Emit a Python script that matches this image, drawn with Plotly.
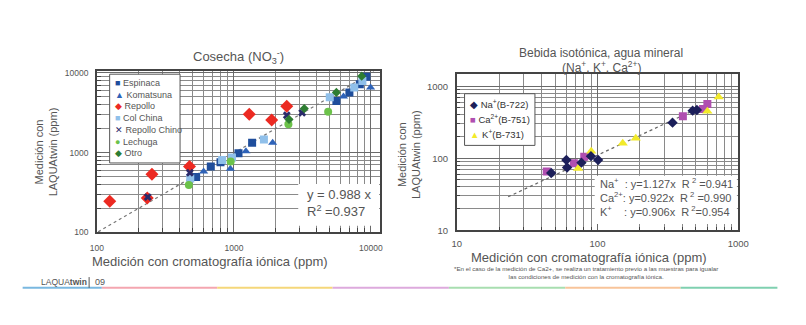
import plotly.graph_objects as go

W, H = 806, 325
FONT = "Liberation Sans"
GRAY = "#555555"

# ---------------- Left chart data (Cosecha NO3-) ----------------
esp_x = [530, 678, 798, 1080, 1358, 5600, 6970, 8300, 9270]
esp_y = [494, 667, 755, 982, 1325, 4420, 5690, 7200, 8940]
kom_x = [601, 942, 1224, 1918, 6310, 9950]
kom_y = [580, 625, 1038, 1325, 5040, 6550]
rep_x = [124, 233, 252, 474, 1294, 1888, 2432]
rep_y = [244, 268, 533, 667, 3035, 2560, 3800]
col_x = [480, 820, 968, 1656, 5010, 7560, 8670]
col_y = [471, 805, 869, 1455, 4940, 6550, 7910]
rch_x = [235, 477, 2432, 3150]
rch_y = [276, 559, 2945, 3150]
lec_x = [469, 947, 2500, 4875]
lec_y = [391, 770, 2265, 3240]
otr_x = [2525, 3265, 5600, 8570]
otr_y = [2605, 3560, 5690, 9100]
fit1_x = [102, 10500]
fit1_y = [101, 10370]

# ---------------- Right chart data (Na+, K+, Ca2+) ----------------
na_x = [46.9, 60.1, 60.8, 76.9, 89.8, 101, 341, 474, 508]
na_y = [62.4, 94.4, 74.3, 86.9, 107, 94.4, 312, 458, 468]
ca_x = [43.6, 67.9, 80.5, 404, 562, 603]
ca_y = [65.6, 85.1, 105, 384, 483, 565]
k_x = [72.8, 90.2, 151, 187, 603, 726]
k_y = [72.1, 125, 162, 190, 449, 709]
fit2_x = [23.2, 635]
fit2_y = [29.2, 595]

fig = go.Figure()

def add(x, y, color, symbol, size, name, xa="x", ya="y"):
    fig.add_trace(go.Scatter(
        x=x, y=y, mode="markers", name=name, xaxis=xa, yaxis=ya,
        marker=dict(color=color, symbol=symbol, size=size, line=dict(width=0)),
        showlegend=False))

# dashed fit lines
fig.add_trace(go.Scatter(x=fit1_x, y=fit1_y, mode="lines", xaxis="x", yaxis="y",
                         line=dict(color="#777777", width=1.2, dash="3px,3px"),
                         showlegend=False))
fig.add_trace(go.Scatter(x=fit2_x, y=fit2_y, mode="lines", xaxis="x2", yaxis="y2",
                         line=dict(color="#666666", width=1.2, dash="3px,3px"),
                         showlegend=False))

C_ESP, C_KOM, C_REP, C_COL = "#1f4e9c", "#2f63b8", "#ec2a22", "#90c0ea"
C_RCH, C_LEC, C_OTR = "#2a2a6a", "#6cc24a", "#2e7d32"
C_NA, C_CA, C_K = "#1c1f5a", "#b04fb0", "#f2ea2a"

add(rep_x, rep_y, C_REP, "diamond", 10, "Repollo")
add(esp_x, esp_y, C_ESP, "square", 8, "Espinaca")
add(kom_x, kom_y, C_KOM, "triangle-up", 8, "Komatsuna")
add(col_x, col_y, C_COL, "square", 8, "Col China")
add(lec_x, lec_y, C_LEC, "circle", 8, "Lechuga")
add(rch_x, rch_y, C_RCH, "x", 7, "Repollo Chino")
add(otr_x, otr_y, C_OTR, "diamond", 7, "Otro")

add(ca_x, ca_y, C_CA, "square", 8, "Ca2+", "x2", "y2")
add(k_x, k_y, C_K, "triangle-up", 9, "K+", "x2", "y2")
add(na_x, na_y, C_NA, "diamond", 8, "Na+", "x2", "y2")

def px(x):
    return x / W

def py(y):
    return 1 - y / H

axis_common = dict(
    type="log", showgrid=True, gridcolor="#6a6a6a", gridwidth=1,
    dtick=1, tickformat="d", ticks="", zeroline=False,
    showline=True, mirror=True, linecolor="#444444", linewidth=1.5,
    minor=dict(showgrid=True, gridcolor="#8a8a8a", gridwidth=0.8,
               ticks="inside", ticklen=4, tickcolor="#444444"),
)

fig.update_layout(
    width=W, height=H, margin=dict(l=0, r=0, t=0, b=0),
    paper_bgcolor="white", plot_bgcolor="white",
    font=dict(family=FONT, color=GRAY),
    xaxis=dict(axis_common, domain=[px(92), px(382)], range=[2, 4.07],
               anchor="y", tickfont=dict(size=8.5, color=GRAY), ticklabelstandoff=7),
    yaxis=dict(axis_common, domain=[py(235), py(70)], range=[2, 4.02],
               anchor="x", tickfont=dict(size=8.5, color=GRAY), ticklabelstandoff=5),
    xaxis2=dict(axis_common, domain=[px(460), px(748)], range=[1, 3],
                anchor="y2", tickfont=dict(size=9.5, color=GRAY), ticklabelstandoff=4),
    yaxis2=dict(axis_common, domain=[py(233), py(73)], range=[1, 3.167],
                anchor="x2", tickfont=dict(size=9.5, color=GRAY), ticklabelstandoff=5),
)

shapes = []
# white areas behind the fit-equation texts
shapes.append(dict(type="rect", xref="x domain", yref="y domain", x0=0.71, x1=0.995,
                   y0=0.04, y1=0.30, fillcolor="white", line=dict(width=0), layer="above"))
shapes.append(dict(type="rect", xref="x2 domain", yref="y2 domain", x0=0.49, x1=0.995,
                   y0=0.04, y1=0.35, fillcolor="white", line=dict(width=0), layer="above"))
# legend boxes
shapes.append(dict(type="rect", xref="paper", yref="paper", x0=px(105), x1=px(177),
                   y0=py(164), y1=py(73), fillcolor="white",
                   line=dict(color="#555555", width=1), layer="above"))
shapes.append(dict(type="rect", xref="paper", yref="paper", x0=px(468), x1=px(540),
                   y0=py(146), y1=py(93), fillcolor="white",
                   line=dict(color="#555555", width=1), layer="above"))
# footer colour band
band = [(16, 97, "#7ab8e0"), (97, 215, "#f4a6b0"), (215, 333, "#f5d77a"),
        (333, 452, "#ddaadd"), (452, 571, "#a8deb0"), (571, 689, "#f8c49a"),
        (689, 788, "#7fd0b0")]
for a, b, c in band:
    shapes.append(dict(type="line", xref="paper", yref="paper", x0=px(a), x1=px(b),
                       y0=py(292), y1=py(292), line=dict(color=c, width=2)))
shapes.append(dict(type="line", xref="paper", yref="paper", x0=px(84), x1=px(84),
                   y0=py(292), y1=py(281), line=dict(color="#555555", width=1)))
fig.update_layout(shapes=shapes)

ann = []
def A(x, y, text, size, color=GRAY, xanchor="center", yanchor="middle", **kw):
    ann.append(dict(x=px(x), y=py(y), xref="paper", yref="paper", text=text,
                    showarrow=False, xanchor=xanchor, yanchor=yanchor,
                    font=dict(size=size, color=color, family=FONT), **kw))

A(237, 55, "Cosecha (NO<sub>3</sub><sup>-</sup>)", 13)
A(608, 51, "Bebida isotónica, agua mineral", 12)
A(608, 66, "(Na<sup>+</sup>, K<sup>+</sup>, Ca<sup>2+</sup>)", 12)
A(40, 153, "Medición con<br>LAQUAtwin (ppm)", 11, textangle=-90)
A(411, 155, "Medición con<br>LAQUAtwin (ppm)", 11, textangle=-90)
A(208, 265, "Medición con cromatografía iónica (ppm)", 13)
A(595, 261, "Medición con cromatografía iónica (ppm)", 13)
A(592, 276, "*En el caso de la medición de Ca2+, se realiza un tratamiento previo a las muestras para igualar"
            "<br>las condiciones de medición con la cromatografía iónica.", 6.2)
A(33, 286, "LAQUA<b>twin</b>", 8.5, xanchor="left")
A(88, 286, "09", 9, xanchor="left")

A(305, 196, "y = 0.988 x", 13, xanchor="left")
A(305, 213, "R<sup>2</sup> =0.937", 13, xanchor="left")

A(604, 185, "Na<sup>+</sup>  : y=1.127x  R<sup> 2</sup> =0.941", 11, xanchor="left")
A(604, 199, "Ca<sup>2+</sup>: y=0.922x  R<sup> 2</sup> =0.990", 11, xanchor="left")
A(604, 213, "K<sup>+</sup>    : y=0.906x  R<sup> 2</sup>=0.954", 11, xanchor="left")

def g(color, ch):
    return f'<span style="color:{color}">{ch}</span>'

leg1 = [(C_ESP, "■", "Espinaca"), (C_KOM, "▲", "Komatsuna"), (C_REP, "◆", "Repollo"),
        (C_COL, "■", "Col China"), (C_RCH, "✕", "Repollo Chino"), (C_LEC, "●", "Lechuga"),
        (C_OTR, "◆", "Otro")]
A(108, 75, "<br>".join(f"{g(c, s)} {t}" for c, s, t in leg1), 9, xanchor="left",
  yanchor="top", align="left")

leg2 = [(C_NA, "◆", "Na<sup>+</sup>(B-722)", 104), (C_CA, "■", "Ca<sup>2+</sup>(B-751)", 119),
        (C_K, "▲", "K<sup>+</sup>(B-731)", 134)]
for c, s, t, yy in leg2:
    A(472, yy, f"{g(c, s)} {t}", 9.5, color="#333333", xanchor="left")

fig.update_layout(annotations=ann)
fig.write_html("out.html")
